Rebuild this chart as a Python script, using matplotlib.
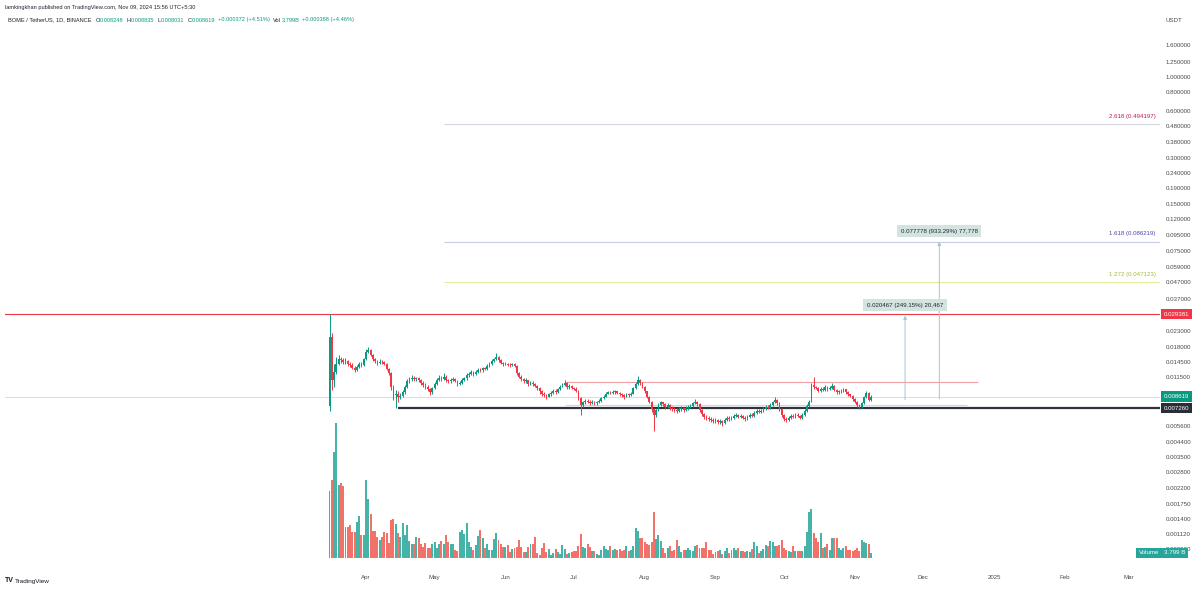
import numpy as np
import matplotlib
matplotlib.use("Agg")
import matplotlib.pyplot as plt

plt.rcParams['font.family'] = ['Liberation Sans', 'DejaVu Sans']

# ---------------- data ----------------
start_date = "2024-03-16"
first_open_e5 = 750

close_e5 = [
 2100,1100,1250,1400,1500,1480,1450,1460,1400,1380,
 1320,1280,1340,1400,1370,1500,1680,1720,1600,1500,
 1460,1420,1450,1430,1400,1300,1220,1000,880,900,
 850,870,920,1000,1080,1120,1140,1120,1130,1100,
 1060,1020,1000,960,920,980,1040,1100,1140,1120,
 1160,1100,1080,1110,1120,1090,1040,1060,1100,1130,
 1180,1210,1240,1200,1240,1280,1270,1310,1300,1360,
 1400,1460,1500,1560,1480,1420,1390,1400,1380,1370,
 1390,1360,1220,1160,1120,1080,1100,1040,1060,1040,
 1010,980,930,900,880,860,890,910,940,920,
 960,1000,1030,1060,990,1010,980,970,940,840,
 760,790,810,800,780,800,780,790,810,840,
 860,900,920,910,920,930,910,890,880,860,
 890,880,900,980,1040,1100,1060,1000,930,860,
 800,720,660,710,760,790,770,740,760,730,
 720,710,700,720,730,710,730,740,750,780,
 800,770,710,670,640,630,620,610,600,610,
 590,600,580,610,630,620,630,650,660,640,
 650,630,620,640,660,650,680,700,690,700,
 720,740,730,760,790,820,780,720,660,620,
 610,630,650,640,660,650,630,660,700,750,
 800,1020,990,980,940,970,950,990,960,980,
 1010,950,920,930,940,960,920,890,870,830,
 800,760,740,780,850,910,825,862]

high_e5 = [
 2938,2200,1400,1550,1600,1560,1520,1530,1490,1440,
 1420,1360,1380,1450,1430,1540,1760,1800,1740,1620,
 1530,1490,1500,1480,1460,1420,1320,1240,1020,950,
 930,910,950,1030,1120,1160,1190,1170,1160,1150,
 1120,1080,1050,1020,980,1000,1070,1130,1190,1170,
 1220,1180,1120,1140,1160,1140,1110,1090,1130,1160,
 1220,1250,1280,1260,1270,1320,1310,1340,1340,1390,
 1440,1500,1540,1640,1580,1500,1440,1430,1420,1410,
 1420,1410,1370,1240,1180,1140,1130,1110,1090,1080,
 1060,1030,990,950,920,900,910,930,960,960,
 980,1030,1060,1100,1070,1040,1030,1000,990,950,
 850,810,830,830,820,820,810,810,830,860,
 880,920,940,940,950,950,940,920,910,890,
 910,910,920,1000,1070,1170,1120,1070,1010,940,
 870,810,730,730,780,810,800,780,780,770,
 750,740,730,740,750,740,750,760,770,800,
 830,810,780,720,680,660,650,640,630,630,
 620,620,610,625,650,645,650,670,680,670,
 670,660,645,660,680,675,700,720,715,720,
 740,760,755,780,810,850,830,790,730,670,
 640,650,670,665,680,675,660,675,720,770,
 820,1060,1160,1010,1000,1000,990,1020,1010,1010,
 1060,1020,960,950,960,980,970,930,900,880,
 840,810,770,800,870,940,920,884]

low_e5 = [
 700,950,1000,1200,1380,1420,1400,1400,1360,1330,
 1290,1240,1260,1320,1330,1350,1480,1640,1570,1460,
 1420,1380,1400,1390,1370,1270,1180,950,820,726,
 800,830,850,900,980,1050,1090,1090,1080,1070,
 1030,990,970,930,880,900,960,1020,1080,1090,
 1100,1070,1050,1060,1090,1070,1010,1020,1040,1080,
 1110,1160,1190,1170,1180,1220,1240,1250,1270,1280,
 1340,1380,1430,1480,1450,1390,1360,1370,1350,1340,
 1350,1330,1190,1130,1090,1050,1060,1010,1020,1010,
 990,950,900,870,850,830,850,870,900,900,
 910,950,990,1010,970,970,960,950,920,820,
 660,740,770,780,760,770,760,760,780,800,
 830,850,890,890,890,900,890,870,860,830,
 850,860,870,890,970,1030,1030,980,910,840,
 780,690,520,640,700,750,750,720,730,710,
 700,690,680,690,700,690,700,710,730,740,
 770,750,690,650,620,610,600,590,580,580,
 570,575,560,570,600,600,605,620,640,625,
 630,615,600,610,630,635,640,670,675,680,
 690,710,715,720,750,780,760,700,640,600,
 590,600,620,625,630,635,615,620,650,690,
 740,790,960,960,920,920,930,940,940,950,
 970,930,900,900,910,920,900,870,850,810,
 780,740,720,730,770,840,810,803]

volume_b = [
 50.7,59.1,80.6,102.8,55.7,57.0,54.5,23.6,23.6,25.3,19.8,20.0,27.4,
 31.9,17.3,17.3,59.1,44.6,33.2,20.3,20.3,15.7,13.9,15.7,20.0,19.2,11.4,29.1,29.9,26.1,19.2,16.0,26.8,17.3,25.1,12.9,10.9,10.4,15.7,
 15.0,10.4,8.4,11.4,7.4,7.4,10.4,12.2,7.8,10.9,13.1,10.4,17.5,12.2,
 10.4,10.9,5.9,5.1,19.8,21.5,18.5,26.6,12.2,8.4,6.3,9.7,16.7,21.5,15.0,7.8,10.9,6.3,6.3,14.7,19.0,13.9,10.9,8.4,
 8.4,9.7,4.8,6.8,7.8,8.4,13.9,8.4,4.6,4.8,8.4,10.4,10.4,16.0,3.8,2.3,7.4,11.4,4.6,
 6.8,2.3,3.8,6.8,4.3,3.3,9.9,6.8,2.8,3.8,4.6,5.1,5.1,8.9,18.5,8.4,7.8,10.4,8.4,5.3,5.1,
 2.8,
 2.5,6.3,8.9,6.8,6.3,9.3,6.3,6.8,6.3,6.8,5.1,5.9,9.3,5.1,5.9,9.3,22.8,20.3,15.2,15.2,
 11.9,10.9,10.1,11.9,34.7,14.4,17.7,12.7,7.6,3.8,7.6,8.9,5.1,6.3,13.9,9.3,4.3,6.3,6.3,7.6,
 5.9,5.1,8.9,10.1,7.6,7.6,7.6,11.9,6.3,6.3,3.3,
 4.3,5.1,6.3,3.3,5.1,7.6,3.8,5.9,7.6,6.3,7.6,5.1,5.1,
 4.3,5.1,4.3,6.8,11.9,8.9,3.8,5.1,6.8,10.1,8.9,12.7,11.9,8.9,8.9,10.1,13.9,7.6,6.3,5.1,4.3,
 8.9,5.1,5.1,5.1,5.1,8.9,20.0,34.7,37.2,19.0,15.2,11.9,19.0,7.6,8.4,10.9,6.3,15.2,15.2,15.0,
 7.6,6.3,7.6,8.9,5.9,5.9,5.1,5.9,7.6,
 5.1,13.9,11.9,11.4,10.9,3.8]

month_labels = ['Apr', 'May', 'Jun', 'Jul', 'Aug', 'Sep', 'Oct', 'Nov', 'Dec', '2025', 'Feb', 'Mar']
month_dates = ['2024-04-01', '2024-05-01', '2024-06-01', '2024-07-01', '2024-08-01', '2024-09-01',
               '2024-10-01', '2024-11-01', '2024-12-01', '2025-01-01', '2025-02-01', '2025-03-01']

price_ticks = [1.6, 1.25, 1.0, 0.8, 0.6, 0.48, 0.38, 0.3, 0.24, 0.19, 0.15, 0.12, 0.095, 0.075,
               0.059, 0.047, 0.037, 0.023, 0.018, 0.0145, 0.0115, 0.0056, 0.0044, 0.0035,
               0.0028, 0.0022, 0.00175, 0.0014, 0.00112, 0.0009]

ath_price = 0.029381
last_price = 0.008619
support_price = 0.007260
support_start = '2024-04-15'
resist_price = 0.0107
resist_span = ['2024-06-27', '2024-12-25']
channel_price = 0.0076
channel_span = ['2024-06-27', '2024-12-20']

fib_ratios = ['2.618', '1.618', '1.272']
fib_prices = [0.494197, 0.086219, 0.047123]
fib_start = '2024-05-05'
fib_line_colors = ['#d5d8e2', '#c7cbe8', '#e4ec9c']
fib_text_colors = ['#c2185b', '#4b47a6', '#a9b83a']

measure_dates = ['2024-11-23', '2024-12-08']
measure_base = [0.008215, 0.008334]
measure_delta = [0.020467, 0.077778]
measure_pct = [249.15, 933.29]
measure_ticks = ['20,467', '77,778']

header1 = "lamkingkhan published on TradingView.com, Nov 09, 2024 15:56 UTC+5:30"
symbol = "BOME / TetherUS, 1D, BINANCE"
ohlc_last = [0.008248, 0.008835, 0.008031, 0.008619]
chg_text = "+0.000372 (+4.51%)"
vol_text = "3.799B"
vol_chg_text = "+0.000368 (+4.46%)"

# ---------------- derived ----------------
t0 = np.datetime64(start_date)
def dday(s):
    return float((np.datetime64(s) - t0).astype(int))

closes = np.array(close_e5) * 1e-5
highs = np.array(high_e5) * 1e-5
lows = np.array(low_e5) * 1e-5
opens = np.concatenate([[first_open_e5 * 1e-5], closes[:-1]])
days = np.arange(len(closes))
vols = np.array(volume_b)

GREEN = '#089981'
RED = '#f23645'
TXT = '#4a4a4a'
up = closes >= opens
ccol = np.where(up, GREEN, RED)

# ---------------- layout ----------------
W, H = 1199, 590
fig = plt.figure(figsize=(W / 100, H / 100), dpi=100)
fig.patch.set_facecolor('white')
L, R, T, B = 5, 1160, 12, 566
ax = fig.add_axes([L / W, 1 - B / H, (R - L) / W, (B - T) / H])
axv = ax.twinx()
ax.set_zorder(axv.get_zorder() + 1)
ax.patch.set_visible(False)

PX_LN = 67.3      # pixels per e-fold on price scale
ax.set_yscale('log')
ax.set_ylim(1.6 * np.exp(-(B - 45) / PX_LN), 1.6 * np.exp((45 - T) / PX_LN))
PX_DAY = 2.284
ax.set_xlim((L - 329.5) / PX_DAY, (R - 329.5) / PX_DAY)
VPX = 0.76
axv.set_ylim(-(B - 558) * VPX, (558 - T) * VPX)

for a in (ax, axv):
    for s in a.spines.values():
        s.set_visible(False)
axv.set_yticks([])

# ---------------- volume ----------------
vcol = np.where(up, '#26a69a', '#f0584f')
axv.bar(days, vols, width=0.86, color=vcol, alpha=0.85, linewidth=0)

# ---------------- lines ----------------
xl = ax.get_xlim()
ax.axhline(ath_price, color='#f23645', lw=0.8, zorder=2)
ax.axhline(last_price, color='#c9e4df', lw=0.7, zorder=1)
ax.hlines(support_price, dday(support_start), xl[1], color='#2f333d', lw=1.6, zorder=3)
ax.hlines(resist_price, dday(resist_span[0]), dday(resist_span[1]), color='#f3a0a6', lw=0.8, zorder=2)
ax.hlines(channel_price, dday(channel_span[0]), dday(channel_span[1]), color='#b9e3dd', lw=0.8, zorder=2)

for ratio, fp, lc, tc in zip(fib_ratios, fib_prices, fib_line_colors, fib_text_colors):
    ax.hlines(fp, dday(fib_start), xl[1], color=lc, lw=0.8, zorder=1)
    ax.annotate(f"{ratio} ({fp:.6f})", xy=(xl[1], fp), xytext=(-3, 4), textcoords='offset points',
                ha='right', va='bottom', fontsize=4.4, color=tc)

# ---------------- candles ----------------
ax.vlines(days, lows, highs, color=ccol, lw=0.7, zorder=4)
ax.bar(days, np.abs(closes - opens), bottom=np.minimum(opens, closes), width=0.75,
       color=ccol, linewidth=0, zorder=5)

# ---------------- measure tools ----------------
for md, base, delta, pct, tk in zip(measure_dates, measure_base, measure_delta, measure_pct, measure_ticks):
    xd = dday(md)
    top = base + delta
    ax.annotate('', xy=(xd, top), xytext=(xd, base),
                arrowprops=dict(arrowstyle='-|>', color='#9ccbd3', lw=0.7, mutation_scale=5,
                                shrinkA=0, shrinkB=0), zorder=3)
    ax.annotate(f"{delta:.6f} ({pct:.2f}%) {tk}", xy=(xd, top), xytext=(0, 7.5),
                textcoords='offset points', ha='center', va='center', fontsize=4.4,
                color='#1e222d',
                bbox=dict(boxstyle='square,pad=0.6', fc='#d3e4e0', ec='none'), zorder=6)

# ---------------- axes labels ----------------
ax.yaxis.tick_right()
ax.set_yticks(price_ticks)
ax.set_yticklabels([f"{v:.6f}" for v in price_ticks])
ax.yaxis.set_minor_locator(matplotlib.ticker.NullLocator())
ax.tick_params(axis='y', length=0, pad=4, labelsize=4.4, labelcolor=TXT)

ax.set_xticks([dday(s) for s in month_dates])
ax.set_xticklabels(month_labels)
ax.tick_params(axis='x', length=0, pad=6.5, labelsize=4.4, labelcolor=TXT)

ytr = ax.get_yaxis_transform()
xc = 1 + (1176.5 - R) / (R - L)
for val, fc in [(ath_price, '#f23645'), (last_price, '#089981'), (support_price, '#2a2e39')]:
    ax.text(xc, val, f"{val:.6f}", transform=ytr, ha='center', va='center', fontsize=4.4,
            color='white', clip_on=False, zorder=10,
            bbox=dict(boxstyle='square,pad=0.45', fc=fc, ec='none'))

fig.text(1174 / W, 1 - 20 / H, 'USDT', ha='center', va='center', fontsize=4.4, color=TXT)
fig.text(1149 / W, 1 - 553 / H, 'Volume', ha='center', va='center', fontsize=4.4, color='white',
         bbox=dict(boxstyle='square,pad=0.45', fc='#26a69a', ec='none'), zorder=10)
fig.text(1175 / W, 1 - 553 / H, '3.799 B', ha='center', va='center', fontsize=4.4, color='white',
         bbox=dict(boxstyle='square,pad=0.45', fc='#26a69a', ec='none'), zorder=10)

# ---------------- header ----------------
fig.text(5 / W, 1 - 7 / H, header1, ha='left', va='center', fontsize=4.1, color='#1e222d')
renderer = fig.canvas.get_renderer()
def seq_text(x_px, y_px, parts, size=4.1):
    x = x_px
    for s, col, gap in parts:
        t = fig.text(x / W, 1 - y_px / H, s, fontsize=size, color=col, ha='left', va='center')
        x += t.get_window_extent(renderer=renderer).width + gap

DK = '#1e222d'
parts = [(symbol, DK, 4)]
for lab, v in zip('OHLC', ohlc_last):
    parts += [(lab, DK, 0.2), (f"{v:.6f}", GREEN, 3.0)]
parts += [(chg_text, GREEN, 3.5), ('Vol', DK, 0.2), (vol_text, GREEN, 3.0), (vol_chg_text, GREEN, 0)]
seq_text(8, 20, parts)

fig.text(5 / W, 1 - 581 / H, 'TV', ha='left', va='center', fontsize=5, color='#131722', fontweight='bold')
fig.text(15 / W, 1 - 581 / H, 'TradingView', ha='left', va='center', fontsize=4.6, color='#131722')

fig.savefig('out.png', dpi=100, facecolor='white')
